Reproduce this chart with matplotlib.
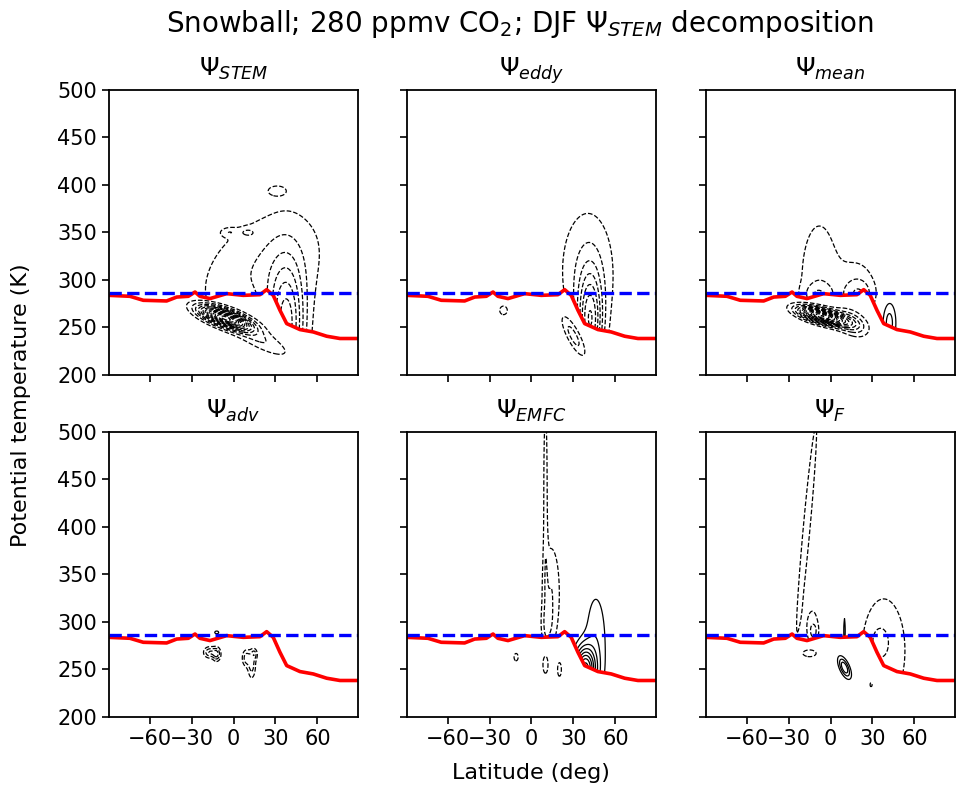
import numpy as np
import matplotlib
matplotlib.use('Agg')
import matplotlib.pyplot as plt

# surface potential temperature (red line)
surf_lat = [-89, -74, -64.5, -47.8, -40.6, -32.3, -27.5, -24, -16.8, -4.9, 7, 18.9, 23.7, 28.4,
            33.2, 38, 47.5, 57, 66.6, 76.1, 89]
surf_theta = [283.8, 282.8, 278.6, 277.9, 282, 282.8, 287.3, 282.8, 280.4, 285.6, 283.8, 284.5,
              289.8, 283.8, 268.1, 254.1, 247.8, 245.3, 240.8, 238.4, 238.4]
theta_ref = 286.5  # blue dashed line

panel_titles = [r'$\Psi_{STEM}$', r'$\Psi_{eddy}$', r'$\Psi_{mean}$',
                r'$\Psi_{adv}$', r'$\Psi_{EMFC}$', r'$\Psi_{F}$']

# streamfunction features:
# (lat, theta, lat width, theta width, theta tilt K/deg, lat lean deg/K, amplitude)
# "above" features sit on the surface, "below" features are drawn everywhere
stem_above = [(38, 250, 9, 45, 0.0, 0, -6.0), (20, 310, 34, 45, 0.5, 0, -2.0),
              (31, 394, 5, 4, 0, 0, -1.3), (-3, 350, 4, 3, 0, 0, -1.2), (10, 350, 4, 3, 0, 0, -1.2)]
stem_below = [(-6, 260, 12, 6, -0.45, 0, -14.0), (18, 238, 16, 8, -0.7, 0, -2.0)]

eddy_above = [(42, 255, 6, 35, 0.0, 0, -6.0), (40, 310, 15, 50, 0.0, 0, -2.0)]
eddy_below = [(-20, 268, 3, 5, 0, 0, -1.5), (30, 241, 6, 9, -2.0, 0, -2.5)]

mean_above = [(-8, 300, 12, 55, 0, 0, -1.7), (20, 290, 10, 25, 0, 0, -1.6),
              (-9, 285, 7, 8, 0, 0, -1.5), (20, 285, 7, 10, 0, 0, -1.5), (42, 255, 3.5, 16, 0, 0, 2.5)]
mean_below = [(-6, 262, 11, 5, -0.35, 0, -14.0), (15, 255, 8, 9, -0.5, 0, -3.0)]

adv_above = [(-12, 289, 2, 2, 0, 0, 1.3)]
adv_below = [(-17, 268, 3, 4, 0, 0, -3.0), (-12, 266, 2, 5, 0, 0, -3.0), (9, 262, 2, 6, 0, 0, -2.5),
             (13, 255, 2, 10, 0, 0, -2.5), (15, 266, 1.5, 4, 0, 0, -2.0)]

emfc_above = [(14, 330, 5, 40, 0, 0, -2.0), (10, 440, 1.2, 80, 0, 0, -1.6), (11, 295, 3, 15, 0, 0, -1.2),
              (38, 250, 5, 16, 0, 0, 8.0), (46, 275, 6, 45, 0, 0, 1.8)]
emfc_below = [(10, 255, 2, 10, 0, 0, -1.5), (20, 250, 1.5, 8, 0, 0, -1.5), (-11, 263, 1.5, 4, 0, 0, -1.6)]

f_above = [(-17, 400, 2.5, 110, 0, 0.062, -1.6), (-13, 295, 4, 18, 0, 0, -1.5), (-12, 290, 2, 6, 0, 0, -1.2),
           (10, 290, 0.8, 20, 0, 0, 1.5), (38, 270, 14, 50, 0, 0, -1.8), (35, 280, 4, 10, 0, 0, -1.0)]
f_below = [(10, 252, 3, 6, -1.5, 0, 4.0), (-15, 267, 4, 3, 0, 0, -2.0), (29, 234, 1, 3, 0, 0, -1.3)]

panel_above = [stem_above, eddy_above, mean_above, adv_above, emfc_above, f_above]
panel_below = [stem_below, eddy_below, mean_below, adv_below, emfc_below, f_below]

levels = [l for l in range(-15, 16) if l != 0]

lat = np.linspace(-89, 89, 357)
th = np.linspace(200, 510, 311)
LAT, TH = np.meshgrid(lat, th)
surf = np.interp(lat, surf_lat, surf_theta)


def field(feats):
    z = np.zeros_like(LAT)
    for la, t0, sl, st, tilt, lean, amp in feats:
        u = (LAT - la - lean * (TH - t0)) / sl
        v = (TH - t0 - tilt * (LAT - la)) / st
        z += amp * np.exp(-0.5 * (u ** 2 + v ** 2))
    return z


fig = plt.figure(figsize=(9.56, 7.9), dpi=100)
lefts = [0.114, 0.4257, 0.7385]
bottoms = [0.5253, 0.0924]
for i in range(6):
    r, c = divmod(i, 3)
    ax = fig.add_axes([lefts[c], bottoms[r], 0.2605, 0.361])

    up = field(panel_above[i])
    up = np.where(TH >= surf[None, :], up, np.nan)
    lo = field(panel_below[i])
    ax.contour(LAT, TH, up, levels=levels, colors='k', linewidths=0.9)
    ax.contour(LAT, TH, lo, levels=levels, colors='k', linewidths=0.9)

    ax.plot(surf_lat, surf_theta, color='red', lw=2.6)
    ax.axhline(theta_ref, color='blue', ls='--', lw=2.4)

    ax.set_xlim(-89, 89)
    ax.set_ylim(200, 500)
    ax.set_xticks([-60, -30, 0, 30, 60])
    ax.set_yticks(np.arange(200, 501, 50))
    ax.tick_params(labelsize=15, length=5, width=1.2)
    for s in ax.spines.values():
        s.set_linewidth(1.3)
    if c != 0:
        ax.set_yticklabels([])
    if r == 0:
        ax.set_xticklabels([])
    ax.set_title(panel_titles[i], fontsize=18, pad=10)

fig.suptitle(r'Snowball; 280 ppmv CO$_2$; DJF $\Psi_{STEM}$ decomposition', fontsize=20,
             x=0.544, y=0.99)
fig.text(0.022, 0.487, 'Potential temperature (K)', rotation=90, ha='center', va='center', fontsize=16)
fig.text(0.555, 0.022, 'Latitude (deg)', ha='center', va='center', fontsize=16)

fig.savefig('out.png', dpi=100)
